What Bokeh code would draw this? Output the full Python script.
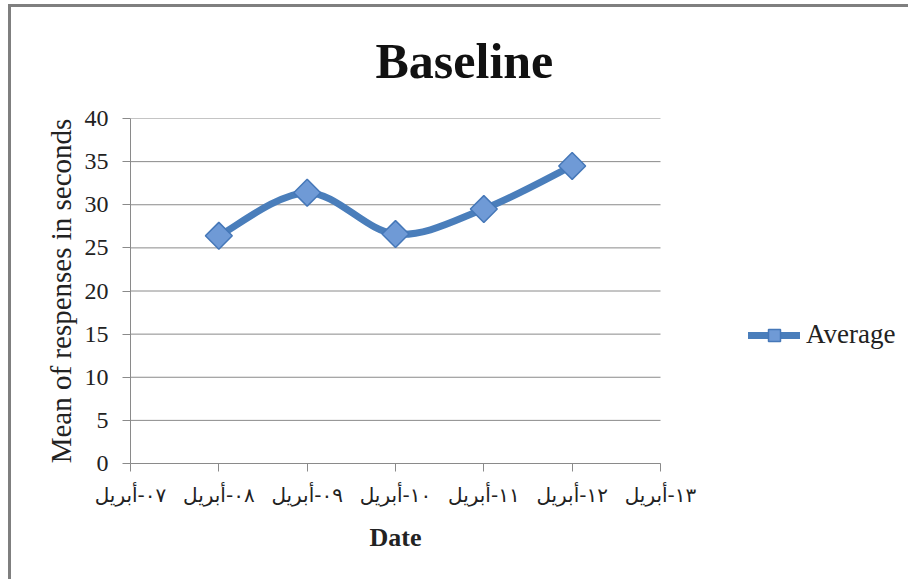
from bokeh.plotting import figure
from bokeh.models import (Range1d, FixedTicker, Legend, LegendItem, Title,
                          ColumnDataSource)
from bokeh.embed import file_html
from bokeh.resources import INLINE
import numpy as np

# ---- data ----
tick_days = [7, 8, 9, 10, 11, 12, 13]
tick_labels = ["٠٧-أبريل", "٠٨-أبريل", "٠٩-أبريل", "١٠-أبريل",
               "١١-أبريل", "١٢-أبريل", "١٣-أبريل"]
days = [8, 9, 10, 11, 12]
average = [26.4, 31.4, 26.6, 29.5, 34.5]
y_ticks = [0, 5, 10, 15, 20, 25, 30, 35, 40]

LINE = "#4a7ebb"
GRID = "#8a8a8a"
SERIF = "Liberation Serif"

FRAME_L, FRAME_R, FRAME_T, FRAME_B = 130, 660, 116, 463
W, H = 908, 579
day_px = (FRAME_R - FRAME_L) / (tick_days[-1] - tick_days[0])
x_end = tick_days[-1] + (W - FRAME_R) / day_px  # extra room for the legend

p = figure(width=W, height=H, output_backend="svg",
           toolbar_location=None,
           x_range=Range1d(tick_days[0], x_end), y_range=Range1d(0, 40),
           min_border_left=FRAME_L, min_border_right=0,
           min_border_top=FRAME_T, min_border_bottom=H - FRAME_B)
# chart border (left and top edges) drawn as inset shadows behind a transparent canvas
p.styles = {"box-shadow": "inset 8px 4px 0px 0px #ffffff, inset 11px 7px 0px 0px #7f7f7f"}
p.outline_line_color = None
p.background_fill_color = "white"
p.border_fill_color = None

# grid: horizontal lines only across the date span
p.xgrid.grid_line_color = None
p.ygrid.grid_line_color = None
grid_src = ColumnDataSource(dict(x0=[tick_days[0]] * len(y_ticks),
                                 x1=[tick_days[-1]] * len(y_ticks),
                                 y=y_ticks))
p.segment(x0="x0", y0="y", x1="x1", y1="y", source=grid_src,
          line_color=GRID, line_width=1, level="underlay")

# y axis
ya = p.yaxis[0]
ya.ticker = FixedTicker(ticks=y_ticks)
ya.axis_line_color = GRID
ya.major_tick_line_color = GRID
ya.major_tick_out = 8
ya.major_tick_in = 0
ya.minor_tick_line_color = None
ya.major_label_text_font = SERIF
ya.major_label_text_font_size = "24px"
ya.major_label_text_color = "#222222"
ya.major_label_standoff = 14
ya.axis_label = "Mean of respenses in seconds"
ya.axis_label_text_font = SERIF
ya.axis_label_text_font_style = "normal"
ya.axis_label_text_font_size = "29px"
ya.axis_label_text_color = "#222222"
ya.axis_label_standoff = 5

# x axis
xa = p.xaxis[0]
xa.ticker = FixedTicker(ticks=tick_days)
xa.bounds = (tick_days[0], tick_days[-1])
xa.major_label_overrides = {d: l for d, l in zip(tick_days, tick_labels)}
xa.axis_line_color = GRID
xa.major_tick_line_color = GRID
xa.major_tick_out = 8
xa.major_tick_in = 0
xa.minor_tick_line_color = None
xa.major_label_text_font = "DejaVu Sans"
xa.major_label_text_font_size = "20px"
xa.major_label_text_color = "#222222"
xa.major_label_standoff = 11

# x axis title, centred under the date span
p.add_layout(Title(text="Date", text_font=SERIF, text_font_style="bold",
                   text_font_size="26px", align="left", offset=239,
                   standoff=22, text_color="#222222"), "below")

# smooth line (Excel-style bezier through the data points)
x = np.array(days, dtype=float)
y = np.array(average, dtype=float)
n = len(x)
xp = np.concatenate([[x[0]], x, [x[-1]]])
yp = np.concatenate([[y[0]], y, [y[-1]]])
segs = dict(x0=[], y0=[], x1=[], y1=[], cx0=[], cy0=[], cx1=[], cy1=[])
for i in range(n - 1):
    segs["x0"].append(x[i]); segs["y0"].append(y[i])
    segs["x1"].append(x[i + 1]); segs["y1"].append(y[i + 1])
    segs["cx0"].append(x[i] + (xp[i + 2] - xp[i]) / 6)
    segs["cy0"].append(y[i] + (yp[i + 2] - yp[i]) / 6)
    segs["cx1"].append(x[i + 1] - (xp[i + 3] - xp[i + 1]) / 6)
    segs["cy1"].append(y[i + 1] - (yp[i + 3] - yp[i + 1]) / 6)
bez = p.bezier(x0="x0", y0="y0", x1="x1", y1="y1", cx0="cx0", cy0="cy0",
               cx1="cx1", cy1="cy1", source=ColumnDataSource(segs),
               line_color=LINE, line_width=7, line_cap="round")
pts = p.scatter(days, average, marker="square", angle=np.pi / 4, size=19,
                fill_color="#6f9ad6", line_color="#4577b8", line_width=1.5)

legend = Legend(items=[LegendItem(label="Average", renderers=[bez, pts])],
                location=(748 - FRAME_L, 113), padding=0, margin=0,
                border_line_color=None, background_fill_alpha=0,
                glyph_width=52, glyph_height=30, label_standoff=6,
                label_text_font=SERIF, label_text_font_size="27px",
                label_text_color="#222222")
p.add_layout(legend, "center")

# title
p.add_layout(Title(text="Baseline", text_font=SERIF, text_font_style="bold",
                   text_font_size="50px", align="left", offset=245,
                   standoff=60, text_color="#111111"), "above")

open("out.html", "w").write(file_html(p, INLINE))
